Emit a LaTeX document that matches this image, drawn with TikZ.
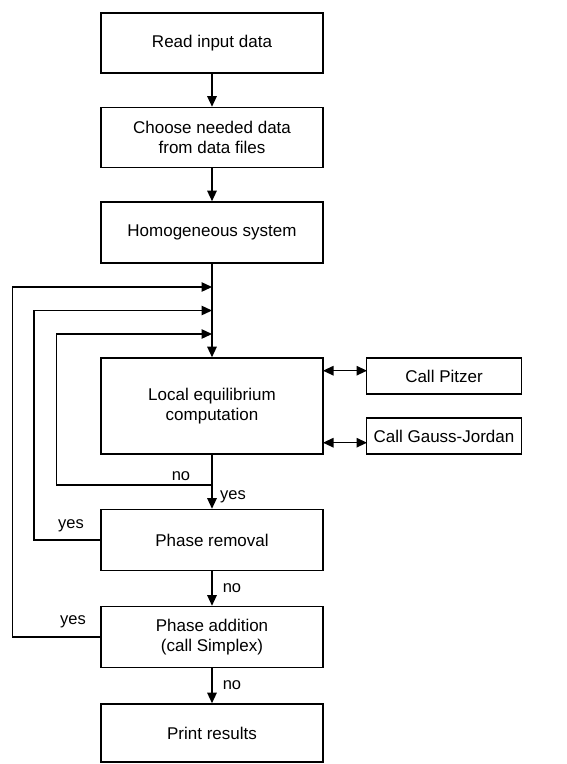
\documentclass[tikz,border=0pt]{standalone}
\usepackage{fontspec}
\setmainfont{Liberation Sans}
\usetikzlibrary{arrows.meta}
\begin{document}
\begin{tikzpicture}[x=1pt,y=-1pt,
  box/.style={draw,line width=1.6pt,minimum width=222pt,inner sep=0pt,align=center,
    font=\fontsize{17}{20}\selectfont},
  sidebox/.style={draw,line width=1.6pt,minimum width=155pt,minimum height=36pt,inner sep=0pt,align=center,
    font=\fontsize{17}{20}\selectfont},
  lbl/.style={inner sep=0pt,font=\fontsize{16.5}{20}\selectfont},
  conn/.style={line width=1.3pt},
  arr/.style={conn,-{Triangle[length=10.5pt,width=9.5pt]}},
  darr/.style={conn,{Triangle[length=10.5pt,width=9.5pt]}-{Triangle[length=10.5pt,width=9.5pt]}}]
\useasboundingbox (0,0) rectangle (566,764);
\node[box,minimum height=60pt] (read) at (212,43) {Read input data};
\node[box,minimum height=60pt] (choose) at (212,137.5) {Choose needed data\\from data files};
\node[box,minimum height=61pt] (homog) at (212,232.5) {Homogeneous system};
\node[box,minimum height=96pt] (local) at (212,406) {Local equilibrium\\computation};
\node[sidebox] (pitzer) at (444,376) {Call Pitzer};
\node[sidebox] (gauss) at (444,436) {Call Gauss-Jordan};
\node[box,minimum height=61pt] (removal) at (212,540) {Phase removal};
\node[box,minimum height=61pt] (addition) at (212,637) {Phase addition\\(call Simplex)};
\node[box,minimum height=58pt] (print) at (212,733) {Print results};

\coordinate (m1) at (212,287);
\coordinate (m2) at (212,310.5);
\coordinate (m3) at (212,334);
\coordinate (nb) at (212,485);
\coordinate (l1) at (12.7,287);
\coordinate (l2) at (34,310.5);
\coordinate (l3) at (56.7,334);
\coordinate (pa) at (323,370.7);
\coordinate (pb) at (367,370.7);
\coordinate (ga) at (323,442.7);
\coordinate (gb) at (367,442.7);

\draw[arr] (read) -- (choose);
\draw[arr] (choose) -- (homog);
\draw[arr] (homog) -- (local);
\draw[arr] (local) -- (removal);
\draw[arr] (removal) -- (addition);
\draw[arr] (addition) -- (print);

\draw[arr] (nb) -| (l3) -- (m3);
\draw[arr] (removal.west) -| (l2) -- (m2);
\draw[arr] (addition.west) -| (l1) -- (m1);

\draw[darr] (pa) -- (pb);
\draw[darr] (ga) -- (gb);

\node[lbl] (lno1) at (181,476) {no};
\node[lbl] (lyes1) at (233,497) {yes};
\node[lbl] (lyes2) at (71,526) {yes};
\node[lbl] (lno2) at (232,588) {no};
\node[lbl] (lyes3) at (73,622) {yes};
\node[lbl] (lno3) at (232,685) {no};
\end{tikzpicture}
\end{document}
